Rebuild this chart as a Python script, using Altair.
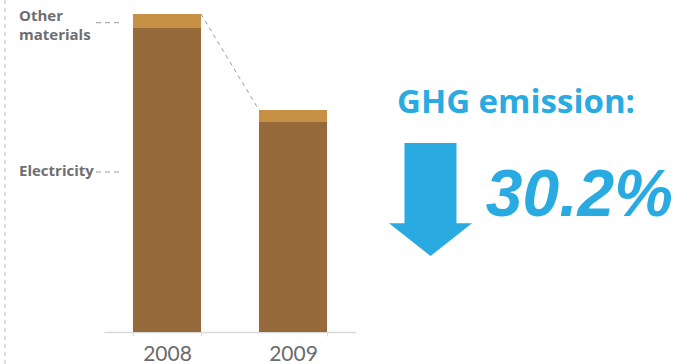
import altair as alt
import pandas as pd

# ---- data ----
years = ["2008", "2009"]
electricity = [95.6, 66.0]
other_materials = [4.4, 3.8]
series = ["Electricity", "Other materials"]
series_colors = ["#976a3b", "#c69144"]
headline = "GHG emission:"
reduction = "30.2%"

# ---- layout constants (pixels) ----
W, H = 681, 364
L, T, R, B = 104, 14, 356, 332  # plot box
PW, PH = R - L, B - T
BLUE = "#29abe2"
GRAY = "#6d6e71"

rows = []
for i, y in enumerate(years):
    rows.append({"year": y, "series": series[0], "value": electricity[i], "ord": 0})
    rows.append({"year": y, "series": series[1], "value": other_materials[i], "ord": 1})
df = pd.DataFrame(rows)

totals = [e + o for e, o in zip(electricity, other_materials)]
conn = pd.DataFrame([{"a": years[0], "b": years[1], "ya": totals[0], "yb": totals[1]}])

xscale = alt.Scale(domain=years, paddingInner=0.46, paddingOuter=0.23)
yscale = alt.Scale(domain=[0, 100], nice=False)

bars = alt.Chart(df).mark_bar().encode(
    x=alt.X("year:N", scale=xscale, sort=years, title=None,
            axis=alt.Axis(domainColor="#d9d9d9", tickColor="#d9d9d9", tickBand="extent",
                          tickSize=4, labelFontSize=21, labelColor="#6b6b6b", labelFont="Lato",
                          labelPadding=7, labelAngle=0, domainWidth=1.5)),
    y=alt.Y("value:Q", stack="zero", scale=yscale, axis=None),
    color=alt.Color("series:N", scale=alt.Scale(domain=series, range=series_colors), legend=None),
    order=alt.Order("ord:Q"),
)

connector = alt.Chart(conn).mark_rule(color="#9a9a9a", strokeDash=[4, 4], strokeWidth=1).encode(
    x=alt.X("a:N", scale=xscale, bandPosition=1),
    x2=alt.X2("b:N", bandPosition=0),
    y=alt.Y("ya:Q", scale=yscale),
    y2="yb:Q",
)

def px(x):
    return x - L

def py(y):
    return y - T

dummy = pd.DataFrame({"k": [0]})

left_rule = alt.Chart(dummy).mark_rule(color="#bdbdbd", strokeDash=[4, 4], strokeWidth=1).encode(
    x=alt.value(px(5)), y=alt.value(py(0)), y2=alt.value(py(364)))

dash1 = alt.Chart(dummy).mark_rule(color="#9a9a9a", strokeDash=[5, 4]).encode(
    x=alt.value(px(96)), x2=alt.value(px(123)), y=alt.value(py(22.7)))
dash2 = alt.Chart(dummy).mark_rule(color="#9a9a9a", strokeDash=[5, 4]).encode(
    x=alt.value(px(96)), x2=alt.value(px(123)), y=alt.value(py(172)))

def label(txt, x, y):
    return alt.Chart(dummy).mark_text(
        text=txt, align="left", baseline="alphabetic", font="Open Sans",
        fontWeight="bold", fontSize=15, color=GRAY).encode(
        x=alt.value(px(x)), y=alt.value(py(y)))

lab_other1 = label("Other", 19, 21)
lab_other2 = label("materials", 19, 40)
lab_elec = label(series[0], 19, 176)

title_txt = alt.Chart(dummy).mark_text(
    text=headline, align="left", baseline="alphabetic", font="Open Sans",
    fontWeight="bold", fontSize=33, color=BLUE).encode(
    x=alt.value(px(397)), y=alt.value(py(113)))

pct_txt = alt.Chart(dummy).mark_text(
    text=reduction, align="right", baseline="alphabetic", font="Liberation Sans",
    fontWeight="bold", fontStyle="italic", fontSize=66, color=BLUE).encode(
    x=alt.value(px(673)), y=alt.value(py(216)))

arrow_path = "M-0.46,-1 L0.46,-1 L0.46,0.42 L0.735,0.42 L0,1 L-0.735,0.42 L-0.46,0.42 Z"
arrow = alt.Chart(dummy).mark_point(shape=arrow_path, filled=True, fill=BLUE, stroke=None,
                                    opacity=1, size=113 * 113).encode(
    x=alt.value(px(430.5)), y=alt.value(py(199.5)))

chart = alt.layer(left_rule, bars, connector, dash1, dash2, lab_other1, lab_other2, lab_elec,
                  title_txt, pct_txt, arrow).properties(
    width=PW, height=PH,
    padding={"left": L, "top": T, "right": W - R, "bottom": H - B},
    autosize="none",
).configure_view(stroke=None)

chart.save("out.html", embed_options={"renderer": "svg", "actions": False})
